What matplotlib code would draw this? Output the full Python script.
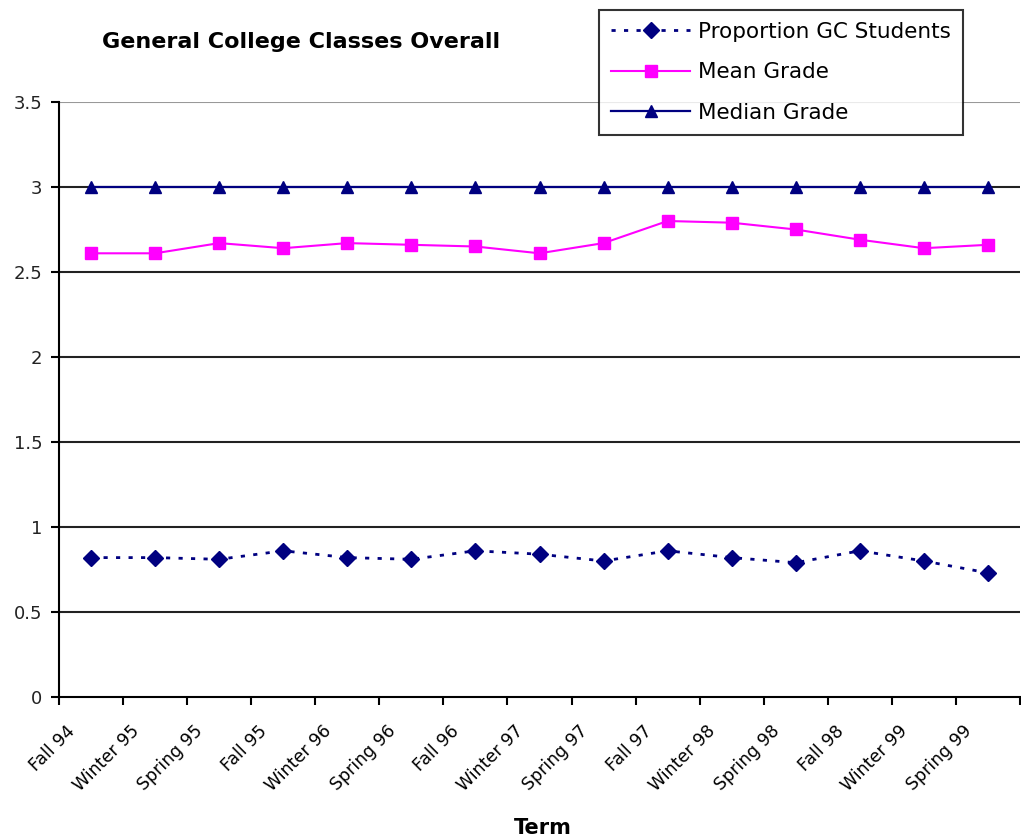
import matplotlib
matplotlib.use("Agg")
import matplotlib.pyplot as plt
import matplotlib.transforms as mtransforms
import numpy as np

terms = ["Fall 94", "Winter 95", "Spring 95", "Fall 95", "Winter 96", "Spring 96",
         "Fall 96", "Winter 97", "Spring 97", "Fall 97", "Winter 98", "Spring 98",
         "Fall 98", "Winter 99", "Spring 99"]
proportion_gc = [0.82, 0.82, 0.81, 0.86, 0.82, 0.81, 0.86, 0.84, 0.80, 0.86, 0.82, 0.79, 0.86, 0.80, 0.73]
mean_grade = [2.61, 2.61, 2.67, 2.64, 2.67, 2.66, 2.65, 2.61, 2.67, 2.80, 2.79, 2.75, 2.69, 2.64, 2.66]
median_grade = [3.0] * 15
y_ticks = [0, 0.5, 1, 1.5, 2, 2.5, 3, 3.5]

plt.rcParams['font.family'] = ['DejaVu Sans']
fig = plt.figure(figsize=(10.21, 8.38), dpi=100)
ax = fig.add_axes([59/1021, 141/838, 961/1021, 595/838])

x = np.arange(len(terms))
navy = "#000080"
magenta = "#FF00FF"

l1, = ax.plot(x, proportion_gc, color=navy, linestyle=(0, (1.5, 3)), linewidth=2,
              marker='D', markersize=8, markerfacecolor=navy, markeredgecolor=navy,
              label="Proportion GC Students", zorder=4)
l2, = ax.plot(x, mean_grade, color=magenta, linestyle='-', linewidth=1.5,
              marker='s', markersize=8.5, markerfacecolor=magenta, markeredgecolor=magenta,
              label="Mean Grade", zorder=4)
l3, = ax.plot(x, median_grade, color=navy, linestyle='-', linewidth=1.6,
              marker='^', markersize=9, markerfacecolor=navy, markeredgecolor=navy,
              label="Median Grade", zorder=4)

ax.set_xlim(-0.5, len(terms) - 0.5)
ax.set_ylim(0, 3.5)
ax.set_yticks(y_ticks)
ax.set_yticklabels([f"{v:g}" for v in y_ticks], fontsize=13, color="#222222")
for yv in y_ticks[1:-1]:
    ax.axhline(yv, color="#222222", linewidth=1.5, zorder=1)
ax.axhline(3.5, color="#999999", linewidth=1.5, zorder=1)

tick_pos = np.arange(len(terms) + 1) - 0.5
ax.set_xticks(tick_pos)
ax.set_xticklabels([])
base = mtransforms.blended_transform_factory(ax.transData, ax.transAxes)
offset = mtransforms.ScaledTranslation(7/100, -25/100, fig.dpi_scale_trans)
for pos, term in zip(tick_pos, terms):
    ax.text(pos, 0, term, transform=base + offset, rotation=45, ha='right', va='top',
            rotation_mode='anchor', fontsize=12.5, clip_on=False)

ax.tick_params(axis='both', direction='out', length=6, width=1.5, color='black')
ax.tick_params(axis='y', pad=6)
for s in ['top', 'right']:
    ax.spines[s].set_visible(False)
ax.spines['left'].set_linewidth(1.5)
ax.spines['bottom'].set_linewidth(1.5)

fig.text(301/1021, 1 - 42/838, "General College Classes Overall", ha='center', va='center',
         fontsize=16, fontweight='bold')
fig.text(543/1021, 1 - 828/838, "Term", ha='center', va='center', fontsize=15, fontweight='bold')

leg = fig.legend(handles=[l1, l2, l3], loc='upper left',
                 bbox_to_anchor=(599/1021, 1 - 10/838), frameon=True, fancybox=False,
                 edgecolor='black', fontsize=15.5, handlelength=3.7, borderpad=0.55,
                 labelspacing=0.95, handletextpad=0.35, borderaxespad=0)
leg.get_frame().set_linewidth(1.5)
leg.set_zorder(10)

fig.savefig("out.png", dpi=100)
